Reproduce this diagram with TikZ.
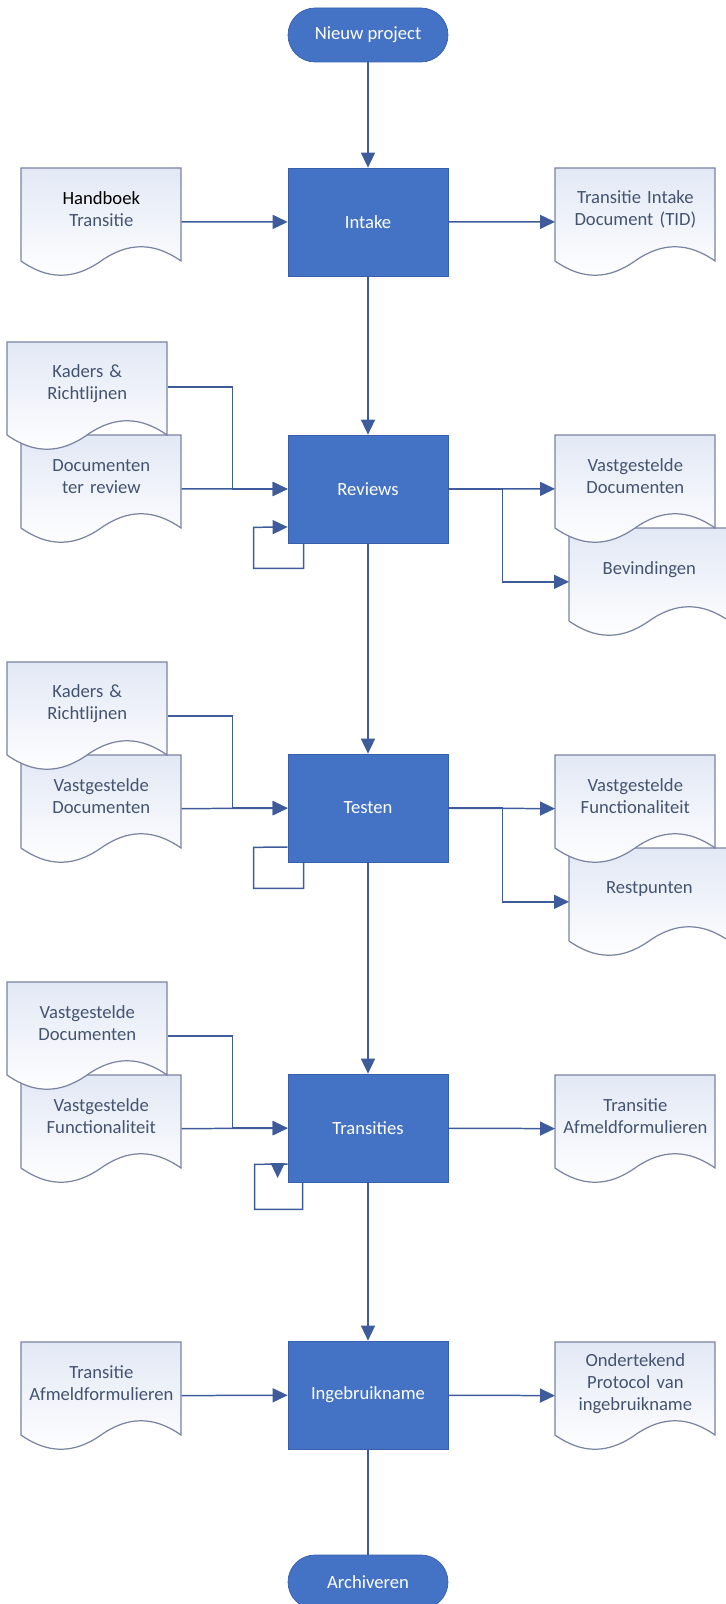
\documentclass[tikz,border=0pt]{standalone}
\usepackage{fontspec}
\setmainfont{Carlito}
\usetikzlibrary{arrows.meta}
\definecolor{procblue}{RGB}{68,114,196}
\definecolor{procline}{RGB}{55,96,172}
\definecolor{flowline}{RGB}{62,92,155}
\definecolor{docline}{RGB}{122,132,160}
\definecolor{docshade}{RGB}{226,232,245}
\definecolor{doctext}{RGB}{68,84,112}

\tikzset{
  proc/.style={draw=procline, fill=procblue, text=white, minimum width=3.2cm,
    minimum height=2.16cm, font=\fontsize{10.6}{12.6}\selectfont},
  term/.style={proc, rounded corners=0.54cm, minimum height=1.08cm},
  doc/.style={minimum width=3.2cm, minimum height=2.14cm, text width=3.1cm,
    align=center, inner sep=0pt, text=doctext, font=\fontsize{10.6}{12.6}\selectfont,
    execute at end node={\par\vspace*{0.5cm}}},
  flow/.style={draw=flowline, line width=0.85pt, -{Triangle[length=0.3cm, width=0.28cm]}},
  line/.style={draw=flowline, line width=0.85pt}
}

% document shape: name, left, top, text
\newcommand{\docbox}[4]{%
  \begin{scope}[shift={(#2,#3)}]
    \draw[draw=docline, line width=0.7pt, top color=docshade, bottom color=white]
      (0,0) -- (160,0) -- (160,93)
      .. controls (133,74) and (107,74) .. (80,93)
      .. controls (53,112) and (27,112) .. (0,93) -- cycle;
  \end{scope}
  \node[doc, anchor=north west] (#1) at (#2,#3) {#4};
}

\begin{document}
\begin{tikzpicture}[x=0.02cm, y=-0.02cm]
  \useasboundingbox (0,0) rectangle (725,1604);

  % process steps
  \node[term] (start) at (368,35) {Nieuw project};
  \node[proc] (intake) at (368,222) {Intake};
  \node[proc] (reviews) at (368,489) {Reviews};
  \node[proc] (testen) at (368,808) {Testen};
  \node[proc] (transities) at (368,1128) {Transities};
  \node[proc] (ingebruik) at (368,1395) {Ingebruikname};
  \node[term] (archief) at (368,1582) {Archiveren};

  % documents
  \docbox{handboek}{21}{168}{\textcolor{black}{Handboek}\\Transitie}
  \docbox{tid}{555}{168}{Transitie Intake\\Document (TID)}

  \docbox{docreview}{21}{435}{Documenten\\ter review}
  \docbox{kaders1}{7}{342}{Kaders \&\\Richtlijnen}
  \docbox{bevindingen}{569}{528}{Bevindingen}
  \docbox{vastdoc1}{555}{435}{Vastgestelde\\Documenten}

  \docbox{vastdoc2}{21}{755}{Vastgestelde\\Documenten}
  \docbox{kaders2}{7}{662}{Kaders \&\\Richtlijnen}
  \docbox{restpunten}{569}{848}{Restpunten}
  \docbox{vastfunc1}{555}{755}{Vastgestelde\\Functionaliteit}

  \docbox{vastfunc2}{21}{1075}{Vastgestelde\\Functionaliteit}
  \docbox{vastdoc3}{7}{982}{Vastgestelde\\Documenten}
  \docbox{afmeld1}{555}{1075}{Transitie\\Afmeldformulieren}

  \docbox{afmeld2}{21}{1342}{Transitie\\Afmeldformulieren}
  \docbox{protocol}{555}{1342}{Ondertekend\\Protocol van\\ingebruikname}

  % main flow
  \draw[flow] (start) -- (intake);
  \draw[flow] (intake) -- (reviews);
  \draw[flow] (reviews) -- (testen);
  \draw[flow] (testen) -- (transities);
  \draw[flow] (transities) -- (ingebruik);
  \draw[line] (ingebruik) -- (archief);

  % intake
  \draw[flow] (handboek) -- (intake);
  \draw[flow] (intake) -- (tid);

  % reviews
  \draw[flow] ([yshift=0.18cm]kaders1.east) -- ++(65,0) |- (reviews.west);
  \draw[flow] (docreview) -- (reviews);
  \draw[flow] ([xshift=0.32cm]reviews.south west) -- ++(0,25) -| ++(-50,-41) -- ([yshift=-0.76cm]reviews.west);
  \draw[flow] (reviews) -- (vastdoc1);
  \draw[flow] (reviews.east) -- ++(54,0) |- (bevindingen.west);

  % testen
  \draw[flow] (kaders2.east) -- ++(65,0) |- (testen.west);
  \draw[flow] (vastdoc2) -- (testen);
  \draw[line] ([xshift=0.32cm]testen.south west) -- ++(0,26) -| ++(-50,-41) -- ([yshift=-0.78cm]testen.west);
  \draw[flow] (testen) -- (vastfunc1);
  \draw[flow] (testen.east) -- ++(54,0) |- (restpunten.west);

  % transities
  \draw[flow] (vastdoc3.east) -- ++(65,0) |- (transities.west);
  \draw[flow] (vastfunc2) -- (transities);
  \draw[line] ([xshift=0.3cm]transities.south west) -- ++(0,27) -| ++(-48,-45) -- ([yshift=-0.72cm]transities.west);
  \draw[flow] ([xshift=-0.2cm,yshift=-0.72cm]transities.west) -- ++(0,14);
  \draw[flow] (transities) -- (afmeld1);

  % ingebruikname
  \draw[flow] (afmeld2) -- (ingebruik);
  \draw[flow] (ingebruik) -- (protocol);
\end{tikzpicture}
\end{document}
